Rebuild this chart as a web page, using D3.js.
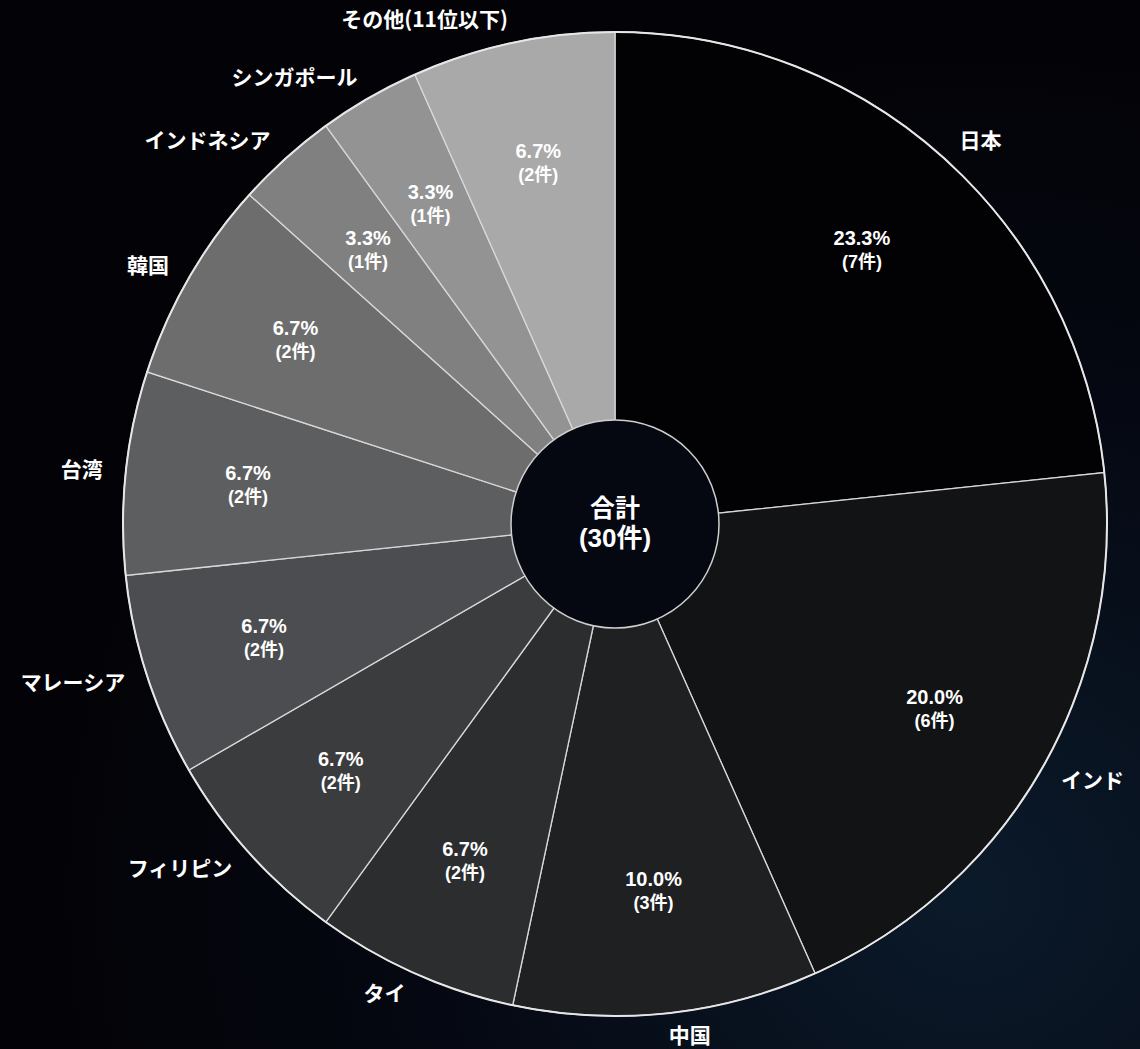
<!DOCTYPE html>
<html><head><meta charset="utf-8">
<script src="https://cdn.jsdelivr.net/npm/d3@7"></script>
<style>
html,body{margin:0;padding:0;background:#040409;}
svg{display:block;}
text{fill:#ffffff;}
</style></head>
<body>
<svg id="chart" width="1140" height="1049"></svg>
<script>
const categories = ["日本","インド","中国","タイ","フィリピン","マレーシア","台湾","韓国","インドネシア","シンガポール","その他(11位以下)"];
const counts = [7,6,3,2,2,2,2,2,1,1,2];
const percentLabels = ["23.3%","20.0%","10.0%","6.7%","6.7%","6.7%","6.7%","6.7%","3.3%","3.3%","6.7%"];
const countLabels = ["(7件)","(6件)","(3件)","(2件)","(2件)","(2件)","(2件)","(2件)","(1件)","(1件)","(2件)"];
const sliceColors = ["#020204","#121315","#1f2022","#2c2d2f","#3b3c3e","#4b4d50","#5c5e60","#6d6d6e","#808080","#939393","#a9a9aa"];
const totalLabel = ["合計","(30件)"];

const W = 1140, H = 1049;
const cx = 615, cy = 524, R = 492, innerR = 104;
const CJK = "'Noto Sans CJK JP','Noto Sans',sans-serif";
const LAT = "'Liberation Sans','Noto Sans CJK JP',sans-serif";
const svg = d3.select("#chart");

// background
const defs = svg.append("defs");
const bg = defs.append("radialGradient").attr("id","bg").attr("cx","0.85").attr("cy","0.85").attr("r","0.8");
bg.append("stop").attr("offset","0").attr("stop-color","#0b1a2a");
bg.append("stop").attr("offset","0.6").attr("stop-color","#050812");
bg.append("stop").attr("offset","1").attr("stop-color","#030307");
svg.append("rect").attr("width",W).attr("height",H).attr("fill","url(#bg)");

const g = svg.append("g").attr("transform",`translate(${cx},${cy})`);
const pie = d3.pie().sort(null).value(d => d);
const arcs = pie(counts);
const arc = d3.arc().innerRadius(0).outerRadius(R);
const labelArc = d3.arc().innerRadius(R/2).outerRadius(R);

g.selectAll("path.slice").data(arcs).enter().append("path")
  .attr("class","slice")
  .attr("d", arc)
  .attr("fill",(d,i)=>sliceColors[i])
  .attr("stroke","#d8d8d8").attr("stroke-width",1.3);

g.append("circle").attr("r",R).attr("fill","none").attr("stroke","#e6e6e6").attr("stroke-width",2);

// inner value labels
arcs.forEach((d,i)=>{
  const [x,y] = labelArc.centroid(d);
  g.append("text").attr("x",x).attr("y",y-5).attr("text-anchor","middle")
    .style("font-family",LAT).style("font-size","20px").style("font-weight","700")
    .text(percentLabels[i]);
  g.append("text").attr("x",x).attr("y",y+18).attr("text-anchor","middle")
    .style("font-family",LAT).style("font-size","18px").style("font-weight","700")
    .text(countLabels[i]);
});

// outer category labels
const outerR = 515;
arcs.forEach((d,i)=>{
  const a = (d.startAngle + d.endAngle)/2;
  const x = outerR*Math.sin(a), y = -outerR*Math.cos(a);
  g.append("text").attr("x",x).attr("y",y).attr("dy","0.33em")
    .attr("text-anchor", a < Math.PI ? "start" : "end")
    .style("font-family",CJK).style("font-size","21px").style("font-weight","700")
    .text(categories[i]);
});

// center
g.append("circle").attr("r",innerR).attr("fill","#050711").attr("stroke","#cfcfcf").attr("stroke-width",1.5);
g.append("text").attr("x",0).attr("y",-7).attr("text-anchor","middle")
  .style("font-family",CJK).style("font-size","25px").style("font-weight","700").text(totalLabel[0]);
g.append("text").attr("x",0).attr("y",23).attr("text-anchor","middle")
  .style("font-family",LAT).style("font-size","26px").style("font-weight","700").text(totalLabel[1]);
</script>
</body></html>
